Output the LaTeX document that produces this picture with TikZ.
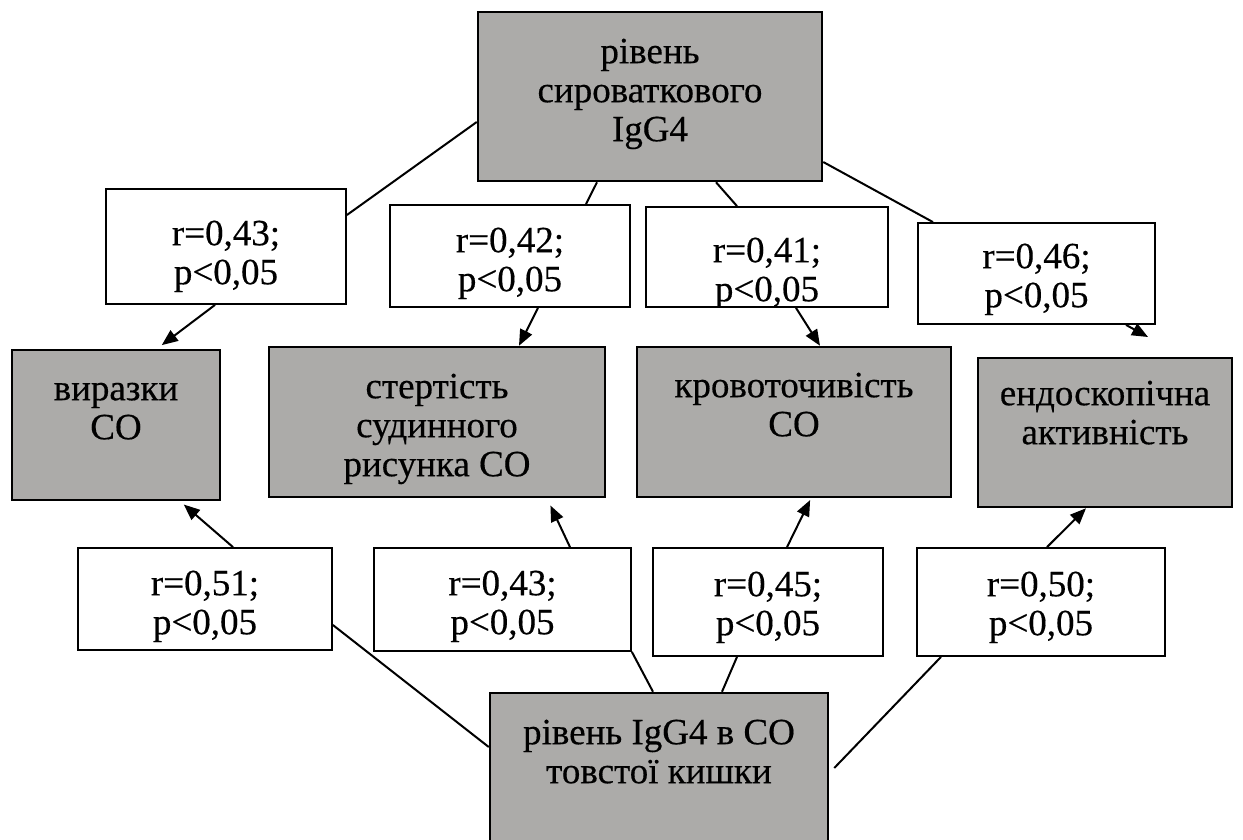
\documentclass[tikz,border=0pt]{standalone}
\usepackage{fontspec}
\setmainfont{Liberation Serif}[FakeBold=0.4]
\usetikzlibrary{arrows.meta,calc}
\definecolor{boxgray}{RGB}{172,171,169}
\begin{document}
\begin{tikzpicture}[x=1pt,y=-1pt,
  gbox/.style={draw, line width=2.5pt, fill=boxgray, rectangle, inner sep=0pt},
  wbox/.style={draw, line width=1.8pt, fill=white, rectangle, inner sep=0pt},
  txt/.style={anchor=north, inner sep=0pt, align=center, font=\fontsize{37}{39}\selectfont},
  conn/.style={line width=2pt},
  arr/.style={line width=2pt, -{Triangle[length=16pt,width=13pt]}}]
\useasboundingbox (0,0) rectangle (1243,839);
% grey boxes
\node[gbox, minimum width=344pt, minimum height=169pt] (sero) at (650,96.5) {};
\node[gbox, minimum width=208pt, minimum height=150pt] (viraz) at (116,425) {};
\node[gbox, minimum width=336pt, minimum height=150pt] (stert) at (437,422) {};
\node[gbox, minimum width=314pt, minimum height=150pt] (krov) at (794,422) {};
\node[gbox, minimum width=254pt, minimum height=149pt] (endo) at (1105,432.5) {};
\node[gbox, minimum width=338pt, minimum height=177pt] (tiss) at (659,781.5) {};
% white label boxes
\node[wbox, minimum width=240pt, minimum height=115pt] (r43a) at (226,246.5) {};
\node[wbox, minimum width=240pt, minimum height=102pt] (r42) at (510,256) {};
\node[wbox, minimum width=242pt, minimum height=100pt] (r41) at (767,257) {};
\node[wbox, minimum width=237pt, minimum height=101pt] (r46) at (1036.5,273.5) {};
\node[wbox, minimum width=254pt, minimum height=102pt] (r51) at (205,599) {};
\node[wbox, minimum width=257pt, minimum height=103pt] (r43b) at (502.5,599.5) {};
\node[wbox, minimum width=230pt, minimum height=108pt] (r45) at (768,602) {};
\node[wbox, minimum width=248pt, minimum height=108pt] (r50) at (1041,602) {};
% texts of grey boxes (north = first baseline - 27.3)
\node[txt] (sero-t) at (650,35.7) {\strut рівень\\сироваткового\\IgG4};
\node[txt] (viraz-t) at (116,372.7) {\strut виразки\\CO};
\node[txt] (stert-t) at (437,370.7) {\strut стертість\\судинного\\рисунка CO};
\node[txt] (krov-t) at (794,369.7) {\strut кровоточивість\\CO};
\node[txt] (endo-t) at (1105,377.7) {\strut ендоскопічна\\активність};
\node[txt] (tiss-t) at (659,716.7) {\strut рівень IgG4 в CO\\товстої кишки};
% texts of labels
\node[txt] (r43a-t) at (226,217.7) {\strut r=0,43;\\p<0,05};
\begin{scope}
\clip (r42.south west) rectangle (r42.north east);
\node[txt] (r42-t) at (510,224.7) {\strut r=0,42;\\p<0,05};
\end{scope}
\begin{scope}
\clip (r41.south west) rectangle (r41.north east);
\node[txt] (r41-t) at (767,234.7) {\strut r=0,41;\\p<0,05};
\end{scope}
\begin{scope}
\clip (r46.south west) rectangle (r46.north east);
\node[txt] (r46-t) at (1036.5,240.7) {\strut r=0,46;\\p<0,05};
\end{scope}
\node[txt] (r51-t) at (205,567.7) {\strut r=0,51;\\p<0,05};
\node[txt] (r43b-t) at (502.5,567.7) {\strut r=0,43;\\p<0,05};
\node[txt] (r45-t) at (768,568.7) {\strut r=0,45;\\p<0,05};
\node[txt] (r50-t) at (1041,568.7) {\strut r=0,50;\\p<0,05};
% connectors from the serum level
\draw[conn] (sero.west |- 0,122) -- (r43a.east |- 0,215);
\draw[conn] (597,0 |- sero.south) -- (586,0 |- r42.north);
\draw[conn] (716,0 |- sero.south) -- (737,0 |- r41.north);
\draw[conn] (sero.east |- 0,162) -- (933,0 |- r46.north);
\draw[arr, shorten >=6pt] (215,0 |- r43a.south) -- (157,0 |- viraz.north);
\draw[arr] (538,0 |- r42.south) -- (519,0 |- stert.north);
\draw[arr] (796,0 |- r41.south) -- (820,0 |- krov.north);
\coordinate (e46) at (1148,337);
\draw[arr] (1126,0 |- r46.south) -- (e46);
% connectors from the tissue level
\draw[arr, shorten >=5pt] (233,0 |- r51.north) -- (180,0 |- viraz.south);
\draw[arr, shorten >=8pt] (570,0 |- r43b.north) -- (547,0 |- stert.south);
\draw[arr, shorten >=2pt] (787,0 |- r45.north) -- (811,0 |- krov.south);
\draw[arr] (1047,0 |- r50.north) -- (1086,0 |- endo.south);
\draw[conn] (tiss.west |- 0,747) -- (r51.east |- 0,625);
\draw[conn] (653,0 |- tiss.north) -- (r43b.south east);
\draw[conn] (722,0 |- tiss.north) -- (737,0 |- r45.south);
\draw[conn] ($(tiss.east |- 0,768)+(5,0)$) -- (941,0 |- r50.south);
\end{tikzpicture}
\end{document}
